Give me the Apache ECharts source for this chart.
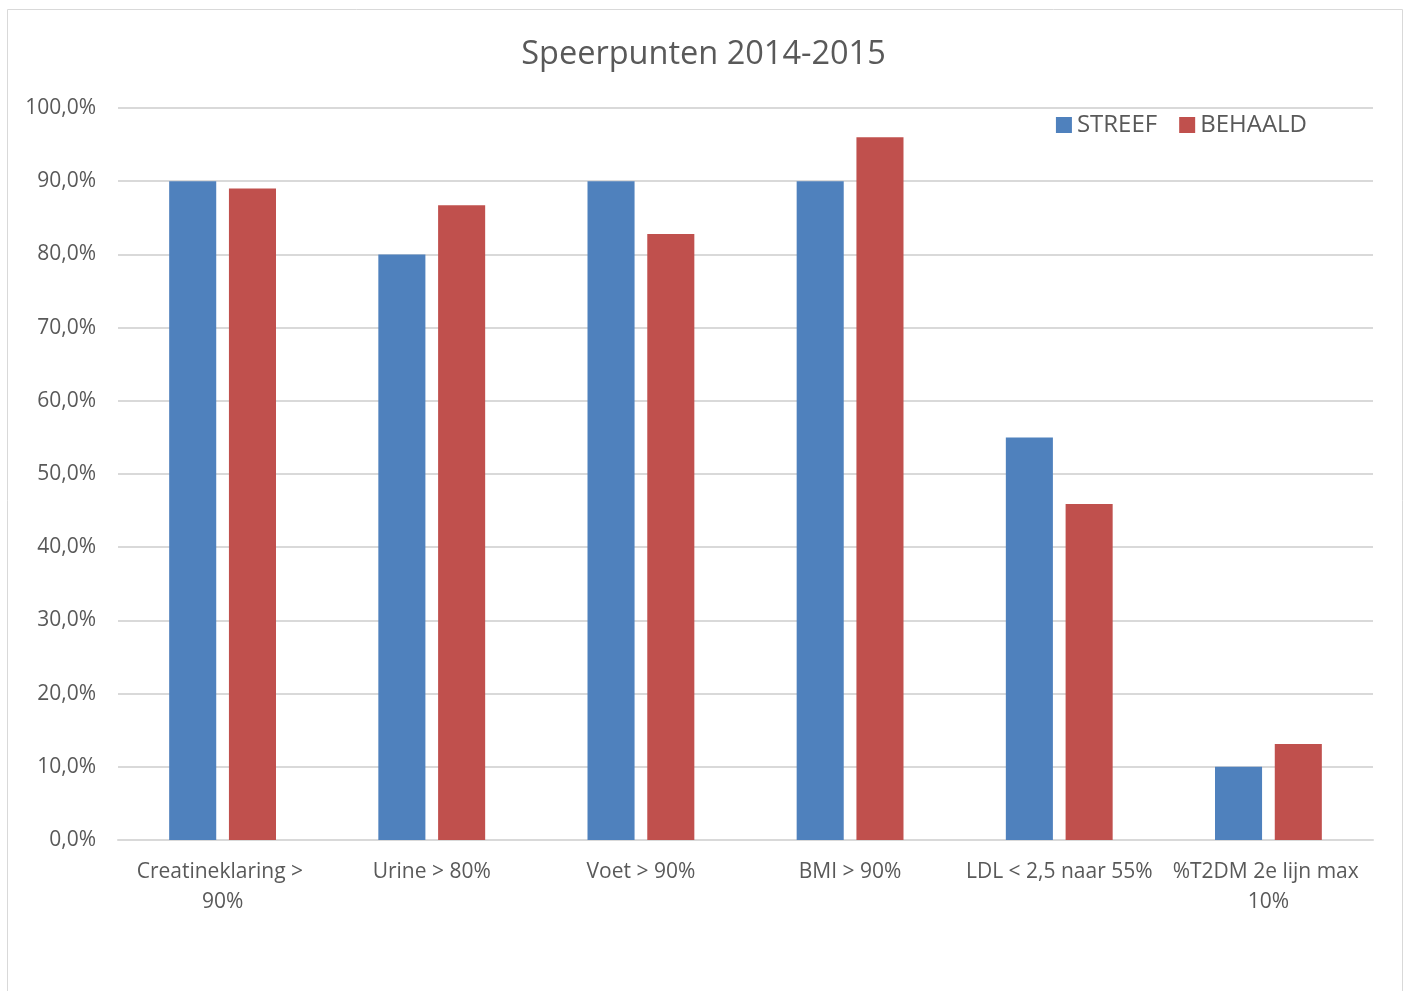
<!DOCTYPE html>
<html>
<head>
<meta charset="utf-8">
<script src="https://cdn.jsdelivr.net/npm/echarts@6/dist/echarts.min.js"></script>
<style>
  html, body { margin: 0; padding: 0; background: #fff; }
  #chart { width: 1407px; height: 991px; }
</style>
</head>
<body>
<div id="chart"></div>
<script>
const categories = ['Creatineklaring > 90%', 'Urine > 80%', 'Voet > 90%', 'BMI > 90%', 'LDL < 2,5 naar 55%', '%T2DM 2e lijn max 10%']
const streef = [90, 80, 90, 90, 55, 10]
const behaald = [89.0, 86.7, 82.8, 96.0, 45.9, 13.1]

const textColor = '#595959'
const font = 'Open Sans'

const chart = echarts.init(document.getElementById('chart'))
const option = {
  color: ['#4f81bd', '#c0504d'],
  textStyle: { fontFamily: font },
  title: {
    text: 'Speerpunten 2014-2015',
    left: 'center',
    top: 33,
    textStyle: { color: textColor, fontSize: 32.5, fontWeight: 'normal', fontFamily: font }
  },
  legend: {
    data: ['STREEF', 'BEHAALD'],
    right: 95,
    top: 108,
    itemWidth: 16,
    itemHeight: 16,
    itemGap: 22,
    icon: 'rect',
    textStyle: { color: textColor, fontSize: 24, fontFamily: font }
  },
  graphic: [{
    type: 'rect',
    shape: { x: 7.5, y: 9.5, width: 1395, height: 1000 },
    style: { fill: 'none', stroke: '#d9d9d9', lineWidth: 1 }
  }],
  grid: {
    left: 118,
    right: 34,
    top: 108,
    bottom: 151
  },
  xAxis: {
    type: 'category',
    data: categories,
    axisLine: { lineStyle: { color: '#d9d9d9', width: 2 } },
    axisTick: { show: false },
    axisLabel: {
      interval: 0,
      color: textColor,
      fontSize: 21,
      fontFamily: font,
      margin: 17,
      lineHeight: 30,
      width: 200,
      overflow: 'break'
    }
  },
  yAxis: {
    type: 'value',
    min: 0,
    max: 100,
    interval: 10,
    axisLine: { show: false },
    axisTick: { show: false },
    splitLine: { lineStyle: { color: '#d9d9d9', width: 2 } },
    axisLabel: {
      color: textColor,
      fontSize: 21,
      fontFamily: font,
      margin: 22,
      formatter: v => v.toFixed(1).replace('.', ',') + '%'
    }
  },
  series: [
    {
      name: 'STREEF',
      type: 'bar',
      data: streef,
      barWidth: '22.5%',
      barGap: '27%'
    },
    {
      name: 'BEHAALD',
      type: 'bar',
      data: behaald,
      barWidth: '22.5%',
      barGap: '27%'
    }
  ]
}
chart.setOption(option)
</script>
</body>
</html>
